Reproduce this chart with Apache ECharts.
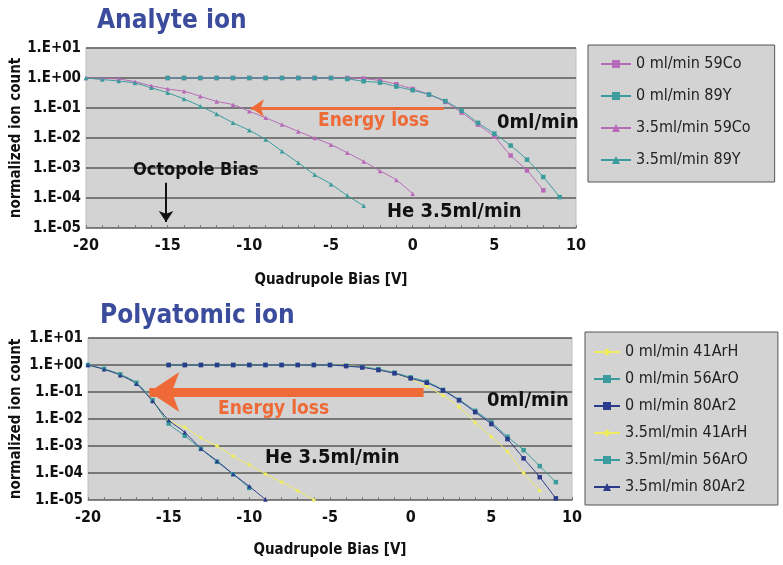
<!DOCTYPE html>
<html><head><meta charset="utf-8">
<script src="https://cdn.jsdelivr.net/npm/echarts@6/dist/echarts.min.js"></script>
<style>html,body{margin:0;padding:0;background:#fff}#c{width:783px;height:565px}</style>
</head><body><div id="c"></div>
<script>
// ---------- data ----------
const xTicks = [-20, -15, -10, -5, 0, 5, 10];
const yTickExps = [-5, -4, -3, -2, -1, 0, 1];

// Analyte ion (top)
const xTopCo0 = [-15,-14,-13,-12,-11,-10,-9,-8,-7,-6,-5,-4,-3,-2,-1,0,1,2,3,4,5,6,7,8];
const yTopCo0 = [1,1,1,1,1,1,1,1,1,1,1,1,0.95,0.82,0.62,0.43,0.28,0.16,0.07,0.028,0.011,0.0026,0.00083,0.00018];
const xTopY0 = [-15,-14,-13,-12,-11,-10,-9,-8,-7,-6,-5,-4,-3,-2,-1,0,1,2,3,4,5,6,7,8,9];
const yTopY0 = [1,1,1,1,1,1,1,1,1,1,1,0.93,0.78,0.7,0.52,0.39,0.28,0.17,0.081,0.032,0.014,0.0056,0.0019,0.0005,0.000107];
const xTopCo35 = [-20,-19,-18,-17,-16,-15,-14,-13,-12,-11,-10,-9,-8,-7,-6,-5,-4,-3,-2,-1,0];
const yTopCo35 = [1,0.97,0.92,0.75,0.55,0.43,0.36,0.245,0.166,0.129,0.078,0.047,0.028,0.0166,0.01,0.006,0.0032,0.00166,0.0008,0.0004,0.000138];
const xTopY35 = [-20,-19,-18,-17,-16,-15,-14,-13,-12,-11,-10,-9,-8,-7,-6,-5,-4,-3];
const yTopY35 = [1,0.89,0.79,0.68,0.47,0.32,0.2,0.115,0.063,0.032,0.018,0.0089,0.0036,0.0015,0.0006,0.00029,0.00012,0.000055];

// Polyatomic ion (bottom)
const xBotArH0 = [-15,-14,-13,-12,-11,-10,-9,-8,-7,-6,-5,-4,-3,-2,-1,0,1,2,3,4,5,6,7,8];
const yBotArH0 = [1,1,1,1,1,1,1,1,1,1,1,0.95,0.85,0.68,0.5,0.3,0.16,0.074,0.028,0.0074,0.0022,0.00062,0.0001,0.000022];
const xBotArO0 = [-15,-14,-13,-12,-11,-10,-9,-8,-7,-6,-5,-4,-3,-2,-1,0,1,2,3,4,5,6,7,8,9];
const yBotArO0 = [1,1,1,1,1,1,1,1,1,1,1,0.93,0.85,0.7,0.52,0.35,0.24,0.12,0.052,0.02,0.0075,0.0022,0.0007,0.00018,0.000046];
const xBotAr20 = [-15,-14,-13,-12,-11,-10,-9,-8,-7,-6,-5,-4,-3,-2,-1,0,1,2,3,4,5,6,7,8,9];
const yBotAr20 = [1,1,1,1,1,1,1,1,1,1,1,0.91,0.81,0.65,0.49,0.32,0.22,0.115,0.049,0.018,0.0065,0.0018,0.00035,0.00007,0.0000115];
const xBotArH35 = [-20,-19,-18,-17,-16,-15,-14,-13,-12,-11,-10,-9,-8,-7,-6];
const yBotArH35 = [1,0.7,0.43,0.21,0.05,0.009,0.0049,0.002,0.001,0.00042,0.0002,0.000091,0.000046,0.000022,0.00001];
const xBotArO35 = [-20,-19,-18,-17,-16,-15,-14,-13,-12,-11,-10];
const yBotArO35 = [1,0.72,0.45,0.22,0.05,0.0068,0.0024,0.00078,0.00026,0.00009,0.000028];
const xBotAr235 = [-20,-19,-18,-17,-16,-15,-14,-13,-12,-11,-10,-9];
const yBotAr235 = [1,0.69,0.42,0.2,0.046,0.0091,0.0032,0.00081,0.00028,0.000091,0.000032,0.0000105];

const namesTop = ['0 ml/min 59Co','0 ml/min 89Y','3.5ml/min 59Co','3.5ml/min 89Y'];
const namesBot = ['0 ml/min 41ArH','0 ml/min 56ArO','0 ml/min 80Ar2','3.5ml/min 41ArH','3.5ml/min 56ArO','3.5ml/min 80Ar2'];

// ---------- style ----------
const FONT = "'DejaVu Sans Condensed','Liberation Sans Narrow',sans-serif";
const MAG = '#b86ab8', TEAL = '#3a9c9c', YEL = '#f0ec60', NAVY = '#2c3a8c';
const ORANGE = '#ee6a36';

function zip(xs, ys){ return xs.map((x,i)=>[x, ys[i]]); }
function logLabel(v){
  const e = Math.round(Math.log10(v));
  return '1.E' + (e < 0 ? '-' : '+') + String(Math.abs(e)).padStart(2,'0');
}
function ser(name, xs, ys, color, sym, idx, extra){
  return Object.assign({
    name, type:'line', xAxisIndex: idx, yAxisIndex: idx,
    data: zip(xs, ys), smooth: 0.3, symbol: sym, symbolSize: 4.5,
    showSymbol: true,
    lineStyle: { color, width: 1 },
    itemStyle: { color },
    animation: false, z: 3
  }, extra || {});
}

const xAxisCommon = {
  type:'value', min: xTicks[0], max: xTicks[xTicks.length-1], interval: xTicks[1]-xTicks[0],
  axisLine: { show: true, lineStyle: { color: '#888', width: 1 } },
  axisTick: { show: true, inside: true, length: 3, lineStyle: { color: '#777' } },
  minorTick: { show: true, splitNumber: 5, length: 3, lineStyle: { color: '#777' } },
  splitLine: { show: false },
  axisLabel: { color: '#111', fontFamily: FONT, fontWeight: 'bold', fontSize: 16, margin: 10 },
  name: 'Quadrupole Bias [V]', nameLocation: 'middle', nameMoveOverlap: false,
  nameTextStyle: { color: '#111', fontFamily: FONT, fontWeight: 'bold', fontSize: 15 }
};
const yAxisCommon = {
  type:'log', logBase: 10, min: Math.pow(10, yTickExps[0]), max: Math.pow(10, yTickExps[yTickExps.length-1]),
  interval: 1,
  axisLine: { show: false }, axisTick: { show: false },
  splitLine: { show: true, lineStyle: { color: '#5a5a5a', width: 1.5 } },
  axisLabel: { color: '#111', fontFamily: FONT, fontWeight: 'bold', fontSize: 15, margin: 5, formatter: logLabel },
  name: 'normalized ion count', nameLocation: 'middle', nameRotate: 90, nameMoveOverlap: false,
  nameTextStyle: { color: '#111', fontFamily: FONT, fontWeight: 'bold', fontSize: 15 }
};

function arrow(color, width, size, from, to){
  return {
    silent: true, symbol: ['none','arrow'], symbolSize: size, animation: false,
    label: { show: false },
    lineStyle: { color, width, type: 'solid', opacity: 1 },
    emphasis: { disabled: true },
    data: [[ { coord: from, symbol: 'none' }, { coord: to, symbol: 'arrow', symbolSize: size } ]]
  };
}
const arrowTop = arrow(ORANGE, 3, 13, [1.9, 0.1], [-9.9, 0.1]);
const arrowOcto = arrow('#111', 2, 11, [-15.1, 3.2e-4], [-15.1, 1.6e-5]);
const arrowBot = arrow(ORANGE, 9, 30, [0.8, 0.1], [-16.2, 0.1]);

const series = [
  ser(namesTop[0], xTopCo0, yTopCo0, MAG, 'rect', 0, { markLine: arrowTop }),
  ser(namesTop[1], xTopY0, yTopY0, TEAL, 'rect', 0, { markLine: arrowOcto }),
  ser(namesTop[2], xTopCo35, yTopCo35, MAG, 'triangle', 0),
  ser(namesTop[3], xTopY35, yTopY35, TEAL, 'triangle', 0),
  ser(namesBot[0], xBotArH0, yBotArH0, YEL, 'diamond', 1, { markLine: arrowBot }),
  ser(namesBot[1], xBotArO0, yBotArO0, TEAL, 'rect', 1),
  ser(namesBot[2], xBotAr20, yBotAr20, NAVY, 'rect', 1),
  ser(namesBot[3], xBotArH35, yBotArH35, YEL, 'diamond', 1),
  ser(namesBot[4], xBotArO35, yBotArO35, TEAL, 'rect', 1),
  ser(namesBot[5], xBotAr235, yBotAr235, NAVY, 'triangle', 1)
];

function txt(left, top, text, size, color){
  return { type:'text', left, top, z: 10, silent: true,
    style: { text, fill: color, font: 'bold ' + size + 'px ' + FONT } };
}

const option = {
  backgroundColor: '#ffffff',
  animation: false,
  grid: [
    { left: 86, top: 48, width: 490, height: 180, outerBoundsMode: 'none', containLabel: false, show: true, backgroundColor: '#d3d3d3', borderColor: '#c0c0c0', borderWidth: 1 },
    { left: 88, top: 338, width: 484, height: 162, outerBoundsMode: 'none', containLabel: false, show: true, backgroundColor: '#d3d3d3', borderColor: '#c0c0c0', borderWidth: 1 }
  ],
  xAxis: [
    Object.assign({}, xAxisCommon, { gridIndex: 0, nameGap: 45 }),
    Object.assign({}, xAxisCommon, { gridIndex: 1, nameGap: 43 })
  ],
  yAxis: [
    Object.assign({}, yAxisCommon, { gridIndex: 0, nameGap: 62 }),
    Object.assign({}, yAxisCommon, { gridIndex: 1, nameGap: 64 })
  ],
  legend: [
    { data: namesTop, orient: 'vertical', left: 588, top: 45, padding: [11, 24, 14, 12], itemGap: 16,
      itemWidth: 30, itemHeight: 10, backgroundColor: '#d3d3d3', borderColor: '#555', borderWidth: 1,
      textStyle: { color: '#222', fontFamily: FONT, fontSize: 16 }, selectedMode: false },
    { data: namesBot, orient: 'vertical', left: 585, top: 332, padding: [12, 30, 10, 8], itemGap: 11,
      itemWidth: 26, itemHeight: 10, backgroundColor: '#d3d3d3', borderColor: '#555', borderWidth: 1,
      textStyle: { color: '#222', fontFamily: FONT, fontSize: 16 }, selectedMode: false }
  ],
  graphic: [
    txt(97, 8, 'Analyte ion', 26, '#3b4c9c'),
    txt(100, 303, 'Polyatomic ion', 26, '#3b4c9c'),
    txt(318, 112, 'Energy loss', 19, ORANGE),
    txt(497, 113, '0ml/min', 20, '#111'),
    txt(387, 202, 'He 3.5ml/min', 20, '#111'),
    txt(133, 161, 'Octopole Bias', 18, '#111'),
    txt(218, 400, 'Energy loss', 19, ORANGE),
    txt(487, 391, '0ml/min', 20, '#111'),
    txt(265, 448, 'He 3.5ml/min', 20, '#111')
  ],
  series
};

const chart = echarts.init(document.getElementById('c'), null, { renderer: 'canvas' });
chart.setOption(option);
</script></body></html>
